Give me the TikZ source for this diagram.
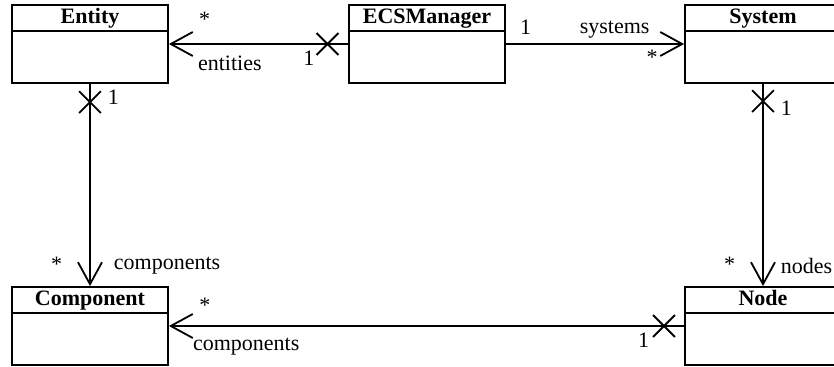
\documentclass[tikz,border=0pt]{standalone}
\usepackage{fontspec}
\setmainfont{Liberation Serif}
\usepackage{tikz}
\usetikzlibrary{arrows.meta,calc,positioning,shapes.misc}

\begin{document}
\begin{tikzpicture}[x=0.5pt,y=-0.5pt,font=\fontsize{11}{13}\selectfont,
    class/.style={draw,line width=0.9pt,minimum width=78pt,minimum height=39pt,inner sep=0pt},
    title/.style={anchor=north,inner sep=0pt,yshift=-2pt,font=\fontsize{11}{13}\selectfont\bfseries},
    assoc/.style={line width=0.9pt,-{Straight Barb[length=11pt,width=12pt]}},
    xmark/.style={cross out,draw,line width=0.9pt,minimum width=10pt,minimum height=10pt,inner sep=0pt},
    lbl/.style={inner sep=1.5pt}]
  \useasboundingbox (0,0) rectangle (834,367);
  % classes
  \node[class] (entity) at (90,44) {};
  \node[class] (ecs) at (427,44) {};
  \node[class] (system) at (763,44) {};
  \node[class] (component) at (90,326) {};
  \node[class] (node) at (763,326) {};
  \foreach \c/\t in {entity/Entity,ecs/ECSManager,system/System,component/Component,node/Node}{
    \node[title] (\c title) at (\c.north) {\t};
    \draw[line width=0.9pt] ([yshift=-13.5pt]\c.north west) -- ([yshift=-13.5pt]\c.north east);
  }
  % associations
  \draw[assoc] (ecs.west) -- node[xmark,pos=0.115] (x1) {}
    node[lbl,below left=2pt,pos=0.15] {1}
    node[lbl,above=7pt,pos=0.8] {*}
    node[lbl,below=4pt,pos=0.66] {entities} (entity.east);
  \draw[assoc] (ecs.east) -- node[lbl,above=3pt,pos=0.11] {1}
    node[lbl,above=1pt,pos=0.61] {systems}
    node[lbl,below=1pt,pos=0.82] {*} (system.west);
  \draw[assoc] (entity.south) -- node[xmark,pos=0.09] (x2) {}
    node[lbl,right=7pt,pos=0.065] {1}
    node[lbl,left=12pt,pos=0.89] {*}
    node[lbl,right=10pt,pos=0.9] {components} (component.north);
  \draw[assoc] (system.south) -- node[xmark,pos=0.085] (x3) {}
    node[lbl,right=7pt,pos=0.12] {1}
    node[lbl,left=12pt,pos=0.89] {*}
    node[lbl,right=7pt,pos=0.9] {nodes} (node.north);
  \draw[assoc] (node.west) -- node[xmark,pos=0.039] (x4) {}
    node[lbl,below left=2pt,pos=0.055] {1}
    node[lbl,above=5pt,pos=0.93] {*}
    node[lbl,below=4pt,pos=0.85] {components} (component.east);
\end{tikzpicture}
\end{document}
